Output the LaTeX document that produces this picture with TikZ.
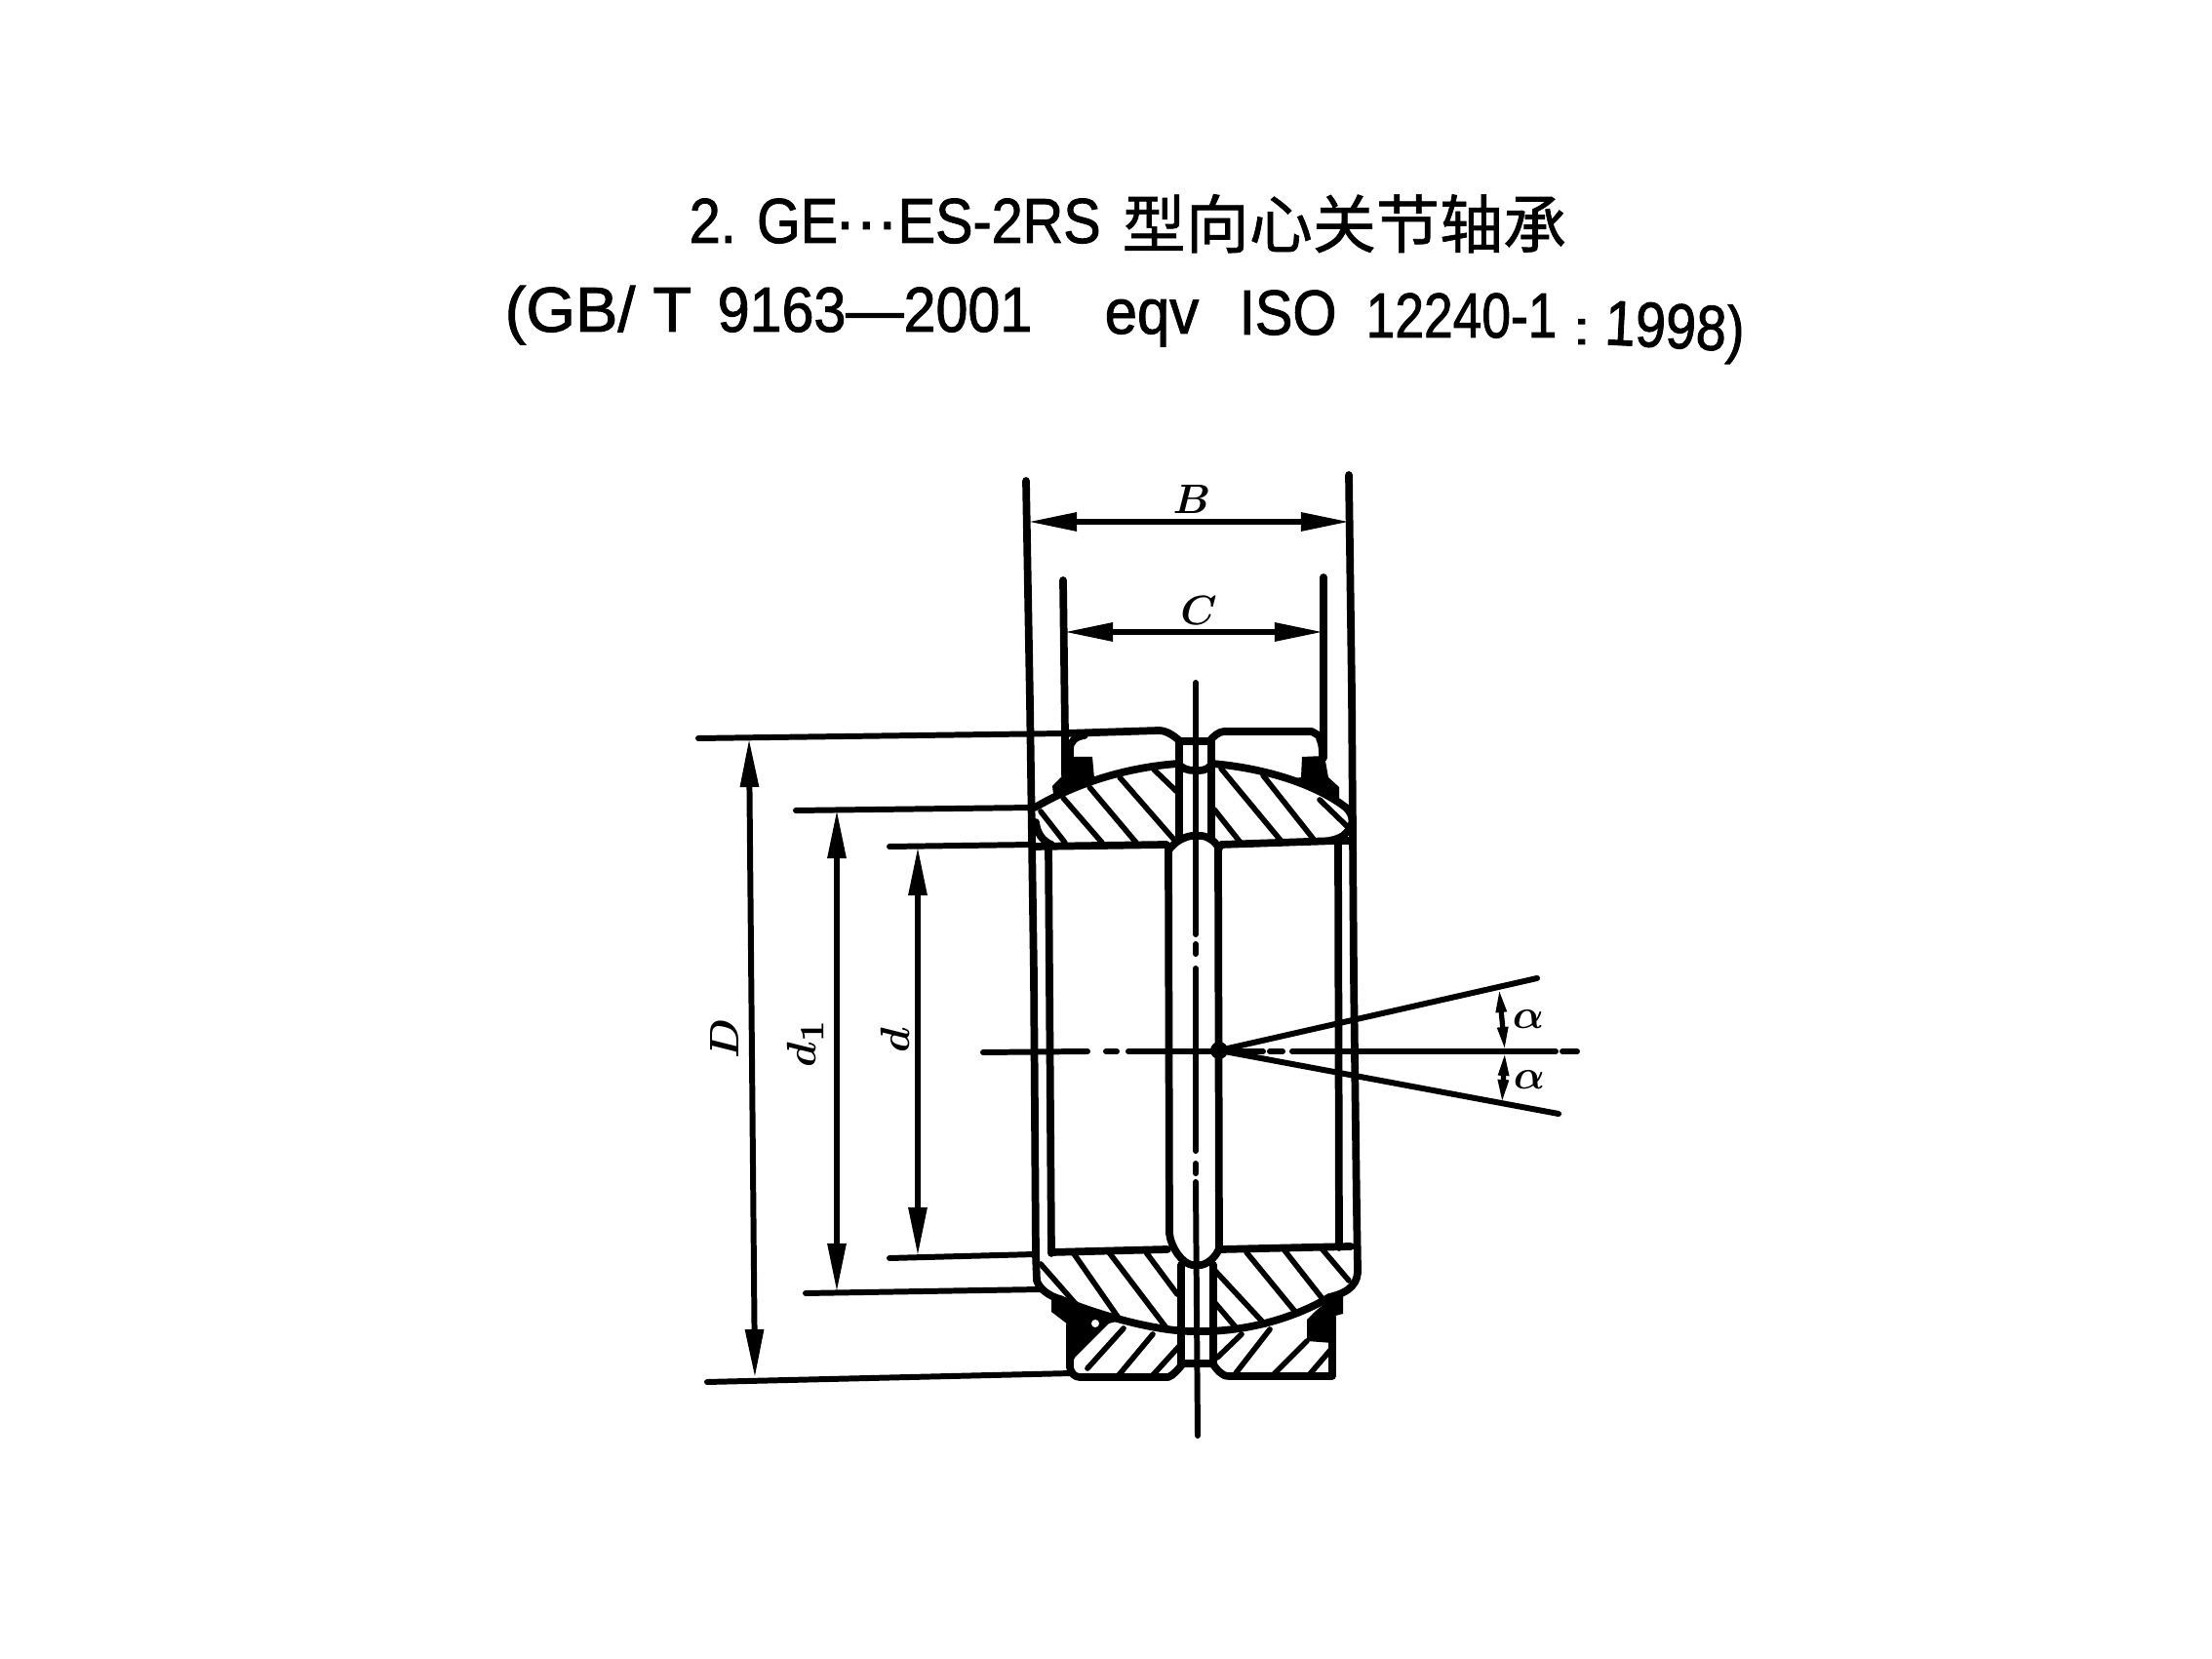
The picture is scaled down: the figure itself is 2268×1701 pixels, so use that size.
\documentclass[tikz,border=0pt]{standalone}
\usepackage{fontspec}
\setsansfont[FakeBold=1.5]{Liberation Sans}
\newfontfamily\cjkfont[FakeBold=1]{Noto Sans CJK SC}
\usetikzlibrary{arrows.meta}
\tikzset{
    part/.style={line width=2.2pt,line join=round,line cap=round},
    hatchline/.style={line width=1.6pt,line cap=round},
    dimline/.style={line width=1.7pt,line cap=round},
    dimarrow/.style={line width=1.7pt,{Triangle[length=5mm,width=1.8mm]}-{Triangle[length=5mm,width=1.8mm]}},
    angarrow/.style={line width=1.5pt,{Triangle[length=2.5mm,width=1mm]}-{Triangle[length=2.5mm,width=1mm]}},
    titletext/.style={anchor=base west,inner sep=0pt,font=\sffamily\fontsize{18.5}{20}\selectfont},
    dimtext/.style={inner sep=0pt,font=\boldmath\fontsize{12}{14}\selectfont},
}
\begin{document}
\begin{tikzpicture}[x=0.01cm,y=-0.01cm]
    \useasboundingbox (0,0) rectangle (2268,1701);
    % title
    \node[titletext] (title1) at (706,249) {\scalebox{0.885}[1]{2. GE}};
    \node[titletext] (title2) at (855,249) {···};
    \node[titletext] (title3) at (920,249) {\scalebox{0.885}[1]{ES-2RS}};
    \node[titletext] (title4) at (1150,254) {\fontsize{18.5}{20}\selectfont\cjkfont 型向心关节轴承};
    \node[titletext] (title5) at (517,340) {(GB/ T};
    \node[titletext] (title6) at (735,340) {\scalebox{0.91}[1]{9163—2001}};
    \node[titletext] (title7) at (1132,342) {\scalebox{0.92}[1]{eqv}};
    \node[titletext] (title8) at (1270,343) {\scalebox{0.89}[1]{ISO}};
    \node[titletext] (title9) at (1400,346) {\scalebox{0.82}[1]{12240-1}};
    \node[titletext] (title10) at (1612,353) {\scalebox{1}[0.75]{:}};
    \node[titletext,rotate=-3] (title11) at (1644,353) {\scalebox{0.86}[1]{1998)}};

    % extension lines
    \draw[dimline] (716,757) -- (1092,752);
    \draw[dimline] (816,831) -- (1060,828);
    \draw[dimline] (912,868) -- (1060,866);
    \draw[dimline] (912,1290) -- (1062,1286);
    \draw[dimline] (826,1326) -- (1068,1322);
    \draw[dimline] (725,1417) -- (1100,1408);
    \draw[part] (1052,493) -- (1056,720) -- (1060,1000) -- (1062,1287) -- (1063,1313) .. controls (1066,1322) and (1076,1329) .. (1087,1332);
    \draw[part] (1383,487) -- (1386,710) -- (1388,1000) -- (1391,1240) -- (1392,1300) .. controls (1393,1315) and (1385,1325) .. (1363,1330);
    \draw[part] (1090,595) -- (1092,752) -- (1092,795);
    \draw[part] (1357,592) -- (1357,777);

    % dimensions
    \coordinate (Btop1) at (1054,535);
    \coordinate (Btop2) at (1384,535);
    \coordinate (Ctop1) at (1091,648);
    \coordinate (Ctop2) at (1357,648);
    \coordinate (Dend1) at (768,757);
    \coordinate (Dend2) at (774,1413);
    \coordinate (done1) at (858,830);
    \coordinate (done2) at (858,1325);
    \coordinate (dend1) at (941,868);
    \coordinate (dend2) at (941,1288);
    \draw[dimarrow] (Btop1) -- (Btop2);
    \draw[dimarrow] (Ctop1) -- (Ctop2);
    \draw[dimarrow] (Dend1) -- (Dend2);
    \draw[dimarrow] (done1) -- (done2);
    \draw[dimarrow] (dend1) -- (dend2);
    \node[dimtext] (lblB) at (1222,512) {$B$};
    \node[dimtext] (lblC) at (1229,626) {$C$};
    \node[dimtext,rotate=90] (lblD) at (743,1065) {$D$};
    \node[dimtext,rotate=90] (lbldone) at (826,1070) {$d_{\scalebox{1.25}{$\scriptstyle 1$}}$};
    \node[dimtext,rotate=90] (lbld) at (918,1067) {$d$};

    % centre lines
    \draw[dimline] (1226,700) -- (1226,958);
    \draw[dimline] (1226,968) -- (1226,978);
    \draw[dimline] (1226,993) -- (1226,1180);
    \draw[dimline] (1226,1193) -- (1226,1203);
    \draw[dimline] (1226,1212) -- (1228,1472);
    \draw[dimline] (1008,1079) -- (1115,1078);
    \draw[dimline] (1134,1078) -- (1145,1078);
    \draw[dimline] (1157,1078) -- (1295,1078);
    \draw[dimline] (1302,1078) -- (1315,1078);
    \draw[dimline] (1325,1078) -- (1595,1078);
    \draw[dimline] (1602,1078) -- (1617,1078);

    % angle
    \coordinate (apex) at (1250,1077);
    \coordinate (angtop) at (1576,1003);
    \coordinate (angbot) at (1598,1142);
    \draw[dimline] (apex) -- (angtop);
    \draw[dimline] (apex) -- (angbot);
    \fill (apex) circle (9);
    \draw[angarrow] (1537,1013) -- (1543,1078);
    \draw[angarrow] (1543,1078) -- (1540,1132);
    \node[dimtext] (lblaone) at (1567,1045) {$\alpha$};
    \node[dimtext] (lblatwo) at (1568,1107) {$\alpha$};

    % bore
    \draw[part] (1075,866) -- (1078,1285);
    \draw[part] (1372,862) -- (1373,1279);
    \draw[part] (1198,868) -- (1199,1265) .. controls (1201,1280) and (1212,1295) .. (1222,1297) -- (1232,1297) .. controls (1240,1295) and (1247,1288) .. (1250,1280) -- (1249,868);
    \draw[part] (1198,872) .. controls (1205,862) and (1215,858) .. (1222,857) -- (1232,857) .. controls (1240,858) and (1246,863) .. (1250,870);
    \draw[part] (1060,868) -- (1196,866);
    \draw[part] (1252,866) -- (1370,862) -- (1384,862);
    \draw[part] (1078,1284) -- (1197,1281);
    \draw[part] (1252,1281) -- (1385,1278);

    % top section, outer ring
    \draw[part] (1092,752) -- (1188,749) .. controls (1196,749) and (1203,754) .. (1210,760) -- (1240,760) .. controls (1244,755) and (1250,750) .. (1255,750) -- (1345,750) -- (1357,757);
    \draw[part] (1097,778) -- (1097,768) .. controls (1097,760) and (1103,755) .. (1112,754);
    \draw[part] (1353,757) .. controls (1356,763) and (1356,770) .. (1356,777);
    \fill (1097,776) -- (1120,776) -- (1122,798) -- (1080,814) -- (1079,806) -- (1090,795) -- cycle;
    \fill (1335,776) -- (1358,775) -- (1362,797) -- (1373,807) -- (1373,822) -- (1348,812) -- (1328,798) -- (1334,797) -- cycle;

    % top section, inner ring
    \draw[part] (1061,828) .. controls (1090,811) and (1140,788) .. (1208,783) .. controls (1212,788) and (1218,790) .. (1224,790) -- (1230,790) .. controls (1236,790) and (1240,787) .. (1243,783) .. controls (1300,788) and (1350,805) .. (1380,828) .. controls (1390,838) and (1388,848) .. (1377,857) .. controls (1372,860) and (1368,861) .. (1363,862);
    \draw[part] (1062,843) .. controls (1063,853) and (1068,862) .. (1078,866);
    \draw[part] (1209,760) -- (1209,858);
    \draw[part] (1242,760) -- (1242,858);
    \draw[hatchline] (1067,832) -- (1092,864);
    \draw[hatchline] (1090,818) -- (1130,864);
    \draw[hatchline] (1117,807) -- (1165,864);
    \draw[hatchline] (1148,797) -- (1203,860);
    \draw[hatchline] (1183,789) -- (1207,812);
    \draw[hatchline] (1245,830) -- (1272,864);
    \draw[hatchline] (1252,788) -- (1315,864);
    \draw[hatchline] (1295,795) -- (1348,862);
    \draw[hatchline] (1353,820) -- (1382,848);

    % bottom section, inner ring
    \draw[part] (1087,1332) .. controls (1130,1350) and (1190,1366) .. (1227,1365) .. controls (1280,1366) and (1330,1350) .. (1363,1330);
    \draw[part] (1211,1297) -- (1211,1398);
    \draw[part] (1244,1297) -- (1244,1398);
    \draw[hatchline] (1067,1296) -- (1103,1337);
    \draw[hatchline] (1100,1284) -- (1148,1353);
    \draw[hatchline] (1137,1284) -- (1197,1363);
    \draw[hatchline] (1175,1284) -- (1207,1327);
    \draw[hatchline] (1245,1302) -- (1297,1358);
    \draw[hatchline] (1278,1284) -- (1328,1345);
    \draw[hatchline] (1317,1282) -- (1357,1333);
    \draw[hatchline] (1355,1280) -- (1383,1313);
    \draw[hatchline] (1245,1335) -- (1268,1362);

    % bottom section, outer ring
    \draw[part] (1097,1358) -- (1097,1402) .. controls (1098,1408) and (1102,1412) .. (1107,1412) -- (1198,1412) .. controls (1203,1410) and (1208,1404) .. (1213,1398) -- (1243,1398) .. controls (1248,1404) and (1252,1411) .. (1260,1411) -- (1366,1411) -- (1366,1350);
    \fill (1078,1331) -- (1078,1345) -- (1095,1358) -- (1097,1404) -- (1102,1392) -- (1137,1357) -- (1148,1354) -- (1103,1337) -- cycle;
    \fill[white] (1123,1357) circle (4);
    \fill (1377,1328) -- (1377,1347) -- (1366,1350) -- (1366,1377) -- (1340,1375) -- (1340,1353) -- (1348,1345) -- (1360,1335) -- cycle;
    \draw[hatchline] (1152,1362) -- (1115,1403);
    \draw[hatchline] (1182,1368) -- (1147,1410);
    \draw[hatchline] (1212,1377) -- (1182,1410);
    \draw[hatchline] (1273,1368) -- (1248,1392);
    \draw[hatchline] (1302,1363) -- (1267,1408);
    \draw[hatchline] (1340,1375) -- (1305,1410);
    \draw[hatchline] (1366,1382) -- (1342,1410);
\end{tikzpicture}
\end{document}
